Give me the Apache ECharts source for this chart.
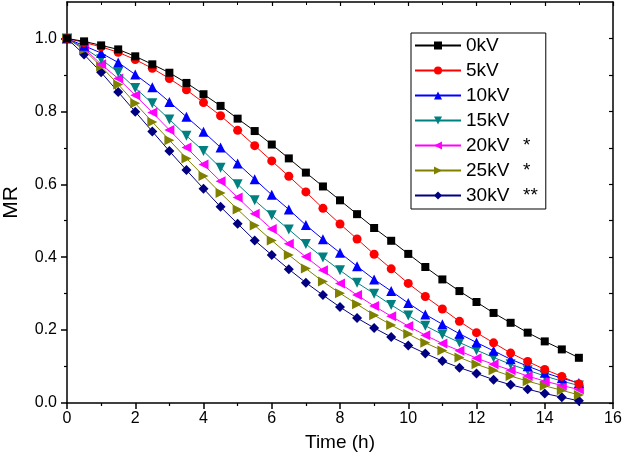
<!DOCTYPE html>
<html>
<head>
<meta charset="utf-8">
<script src="https://cdn.jsdelivr.net/npm/echarts@6/dist/echarts.min.js"></script>
<style>html,body{margin:0;padding:0;background:#fff}#c{width:625px;height:467px}</style>
</head>
<body>
<div id="c"></div>
<script>
const times = [0,0.5,1,1.5,2,2.5,3,3.5,4,4.5,5,5.5,6,6.5,7,7.5,8,8.5,9,9.5,10,10.5,11,11.5,12,12.5,13,13.5,14,14.5,15];
const names = ['0kV','5kV','10kV','15kV','20kV *','25kV *','30kV **'];
const mr0kV  = [1.0,0.992,0.981,0.970,0.951,0.929,0.906,0.878,0.847,0.815,0.780,0.746,0.709,0.671,0.632,0.594,0.556,0.518,0.480,0.445,0.409,0.373,0.339,0.307,0.277,0.247,0.220,0.193,0.169,0.147,0.124];
const mr5kV  = [1.0,0.989,0.977,0.962,0.942,0.918,0.890,0.859,0.824,0.788,0.748,0.706,0.664,0.622,0.579,0.534,0.491,0.450,0.408,0.368,0.328,0.292,0.258,0.224,0.193,0.165,0.137,0.114,0.092,0.073,0.052];
const mr10kV = [1.0,0.980,0.960,0.934,0.901,0.866,0.826,0.785,0.744,0.701,0.657,0.614,0.571,0.531,0.488,0.449,0.412,0.375,0.339,0.307,0.274,0.243,0.216,0.190,0.166,0.143,0.120,0.101,0.083,0.068,0.055];
const mr15kV = [1.0,0.974,0.943,0.907,0.864,0.822,0.778,0.733,0.691,0.645,0.600,0.556,0.515,0.476,0.436,0.399,0.364,0.330,0.300,0.269,0.240,0.212,0.188,0.166,0.145,0.125,0.106,0.090,0.074,0.060,0.048];
const mr20kV = [1.0,0.973,0.929,0.890,0.844,0.797,0.749,0.701,0.654,0.608,0.564,0.519,0.477,0.437,0.401,0.364,0.328,0.296,0.266,0.238,0.211,0.186,0.163,0.143,0.123,0.106,0.090,0.074,0.060,0.048,0.037];
const mr25kV = [1.0,0.969,0.923,0.874,0.822,0.771,0.721,0.671,0.623,0.576,0.531,0.487,0.446,0.406,0.369,0.333,0.301,0.271,0.241,0.214,0.189,0.165,0.144,0.125,0.106,0.090,0.074,0.060,0.047,0.035,0.022];
const mr30kV = [1.0,0.956,0.907,0.853,0.799,0.745,0.691,0.639,0.588,0.538,0.492,0.446,0.406,0.367,0.330,0.296,0.263,0.233,0.206,0.181,0.158,0.136,0.115,0.097,0.081,0.064,0.050,0.038,0.026,0.016,0.006];
const xTicks = [0,2,4,6,8,10,12,14,16];
const yTicks = [0,0.2,0.4,0.6,0.8,1.0];
const yMinor = [0.1,0.3,0.5,0.7,0.9];

const allValues = [mr0kV, mr5kV, mr10kV, mr15kV, mr20kV, mr25kV, mr30kV];
const colors = ['#000000','#ff0000','#0000ff','#008080','#ff00ff','#808000','#000080'];
const symbols = ['rect','circle','triangle','triangle','triangle','triangle','diamond'];
const rotates = [0,0,0,180,90,-90,0];
const sizes = [8,9,10,10,10,10,10];

const font = 'Liberation Sans, Arial, sans-serif';
const chart = echarts.init(document.getElementById('c'), null, {renderer:'canvas'});

const series = allValues.map((vals, i) => ({
  name: names[i],
  type: 'line',
  xAxisIndex: 0, yAxisIndex: 0,
  data: times.map((t, k) => [t, vals[k]]),
  symbol: symbols[i],
  symbolRotate: rotates[i],
  symbolSize: sizes[i],
  showAllSymbol: true,
  lineStyle: {color: colors[i], width: 1},
  itemStyle: {color: colors[i], borderWidth: 0},
  z: 10 - i,
  animation: false
}));

const axisLine = {show: true, onZero: false, lineStyle: {color: '#000', width: 1.5}};

chart.setOption({
  animation: false,
  grid: {left: 67, right: 12, top: 2, bottom: 64, containLabel: false, outerBoundsMode: 'none'},
  legend: {
    orient: 'vertical',
    left: 411, top: 33,
    width: 127,
    padding: [3, 8, 4, 3],
    borderColor: '#000', borderWidth: 1,
    itemWidth: 46, itemHeight: 10,
    itemGap: 6,
    data: names,
    textStyle: {
      fontFamily: font, fontSize: 19, color: '#000', lineHeight: 19,
      rich: {
        a: {fontFamily: font, fontSize: 19, width: 57, color: '#000'},
        b: {fontFamily: font, fontSize: 19, color: '#000'}
      }
    },
    formatter: function (n) {
      const parts = n.split(' ');
      return parts.length > 1 ? '{a|' + parts[0] + '}{b|' + parts[1] + '}' : '{a|' + n + '}';
    }
  },
  xAxis: [{
    type: 'value', min: 0, max: 16, interval: 2,
    position: 'bottom',
    name: 'Time (h)', nameLocation: 'middle', nameGap: 30,
    nameTextStyle: {fontFamily: font, fontSize: 19, color: '#000'},
    axisLine: axisLine,
    axisTick: {show: true, inside: false, length: 6, lineStyle: {color: '#000', width: 1.5}},
    minorTick: {show: true, splitNumber: 2, length: 3, lineStyle: {color: '#000', width: 1.2}},
    axisLabel: {fontFamily: font, fontSize: 16, color: '#000', margin: 8},
    splitLine: {show: false}
  }, {
    type: 'value', min: 0, max: 16, interval: 2,
    position: 'top',
    axisLine: axisLine,
    axisTick: {show: true, inside: true, length: 4, lineStyle: {color: '#000', width: 1.2}},
    minorTick: {show: true, splitNumber: 2, length: 3, lineStyle: {color: '#000', width: 1}},
    axisLabel: {show: false},
    splitLine: {show: false}
  }],
  yAxis: [{
    type: 'value', min: 0, max: 1.1,
    position: 'left',
    name: 'MR', nameLocation: 'middle', nameGap: 45,
    nameTextStyle: {fontFamily: font, fontSize: 21, color: '#000'},
    axisLine: axisLine,
    axisTick: {show: true, inside: false, length: 6, customValues: yTicks, lineStyle: {color: '#000', width: 1.5}},
    axisLabel: {fontFamily: font, fontSize: 16, color: '#000', margin: 10, customValues: yTicks,
      formatter: v => v.toFixed(1)},
    splitLine: {show: false}
  }, {
    type: 'value', min: 0, max: 1.1,
    position: 'left',
    axisLine: {show: false},
    axisTick: {show: true, inside: false, length: 3, customValues: yMinor, lineStyle: {color: '#000', width: 1.2}},
    axisLabel: {show: false},
    splitLine: {show: false}
  }, {
    type: 'value', min: 0, max: 1.1,
    position: 'right',
    axisLine: axisLine,
    axisTick: {show: true, inside: true, length: 4, customValues: yTicks.concat(yMinor), lineStyle: {color: '#000', width: 1.2}},
    axisLabel: {show: false},
    splitLine: {show: false}
  }],
  series: series
});
</script>
</body>
</html>
